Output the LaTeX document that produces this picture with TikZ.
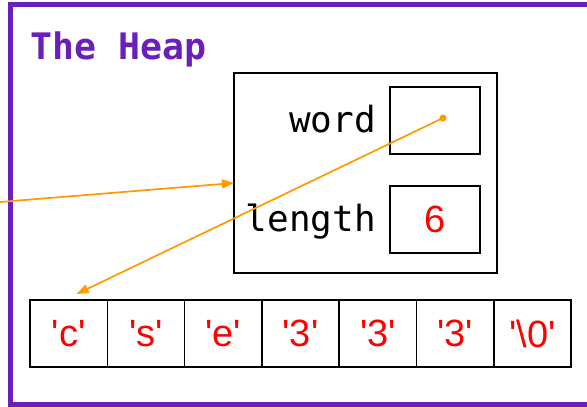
\documentclass[tikz,border=0pt]{standalone}
\usepackage{fontspec}
\setmonofont{DejaVu Sans Mono}
\newfontfamily\cellfont{Liberation Sans}[Ligatures=TeXOff]
\usetikzlibrary{arrows.meta,positioning,calc}
\definecolor{heapviolett}{HTML}{6A1FB8}
\definecolor{zeiger}{HTML}{FF9900}
\definecolor{wert}{HTML}{FF0000}
\tikzset{
  rahmen/.style={draw=heapviolett,line width=5pt},
  kasten/.style={draw=black,line width=1.6pt,inner sep=0pt,outer sep=0pt},
  feld/.style={kasten,minimum width=90pt,minimum height=67pt,text=wert,font=\cellfont\fontsize{38}{42}\selectfont},
  zelle/.style={kasten,minimum width=77.3pt,minimum height=67pt,text=wert,font=\cellfont\fontsize{38}{42}\selectfont},
  feldname/.style={font=\ttfamily\fontsize{36}{40}\selectfont,inner sep=0pt},
  ptr/.style={-{Triangle[length=12pt,width=9pt]},zeiger,line width=1.7pt},
}
\begin{document}
\begin{tikzpicture}[x=1pt,y=1pt]
  \useasboundingbox (0,0) rectangle (587,407);
  \draw[rahmen] (600,2.5) -- (10.5,2.5) -- (10.5,402) -- (600,402);
  \node[font=\ttfamily\bfseries\fontsize{36.5}{40}\selectfont,text=heapviolett,
    anchor=base west,inner sep=0pt] (titel) at (30,347) {The Heap};
  % struct mit zwei Feldern
  \node[kasten,minimum width=263pt,minimum height=200pt] (objekt) at (365.5,234) {};
  \node[feld] (wordfeld) at (435,286.5) {};
  \node[feld] (lengthfeld) at (435,187.5) {6};
  \node[feldname,anchor=base east] (wordname) at ($(wordfeld.west)+(-14,-12.5)$) {word};
  \node[feldname,anchor=base east] (lengthname) at ($(lengthfeld.west)+(-14,-12)$) {length};
  % Zeichenkette
  \node[zelle] (z0) at (68.65,73.5) {'c'};
  \foreach \t [count=\i from 1, remember=\i as \j (initially 0)] in {'s','e','3','3','3','\textbackslash0'}
    \node[zelle,right=0pt of z\j] (z\i) {\t};
  % Zeiger
  \coordinate (aussen) at (0,205);
  \draw[ptr] (aussen) -- ($(objekt.west)+(0,-10)$);
  \coordinate (wordzeiger) at ($(wordfeld.center)+(8,2.5)$);
  \fill[zeiger] (wordzeiger) circle (3.5pt);
  \draw[ptr] (wordzeiger) -- ($(z0.north)+(8,6)$);
\end{tikzpicture}
\end{document}
